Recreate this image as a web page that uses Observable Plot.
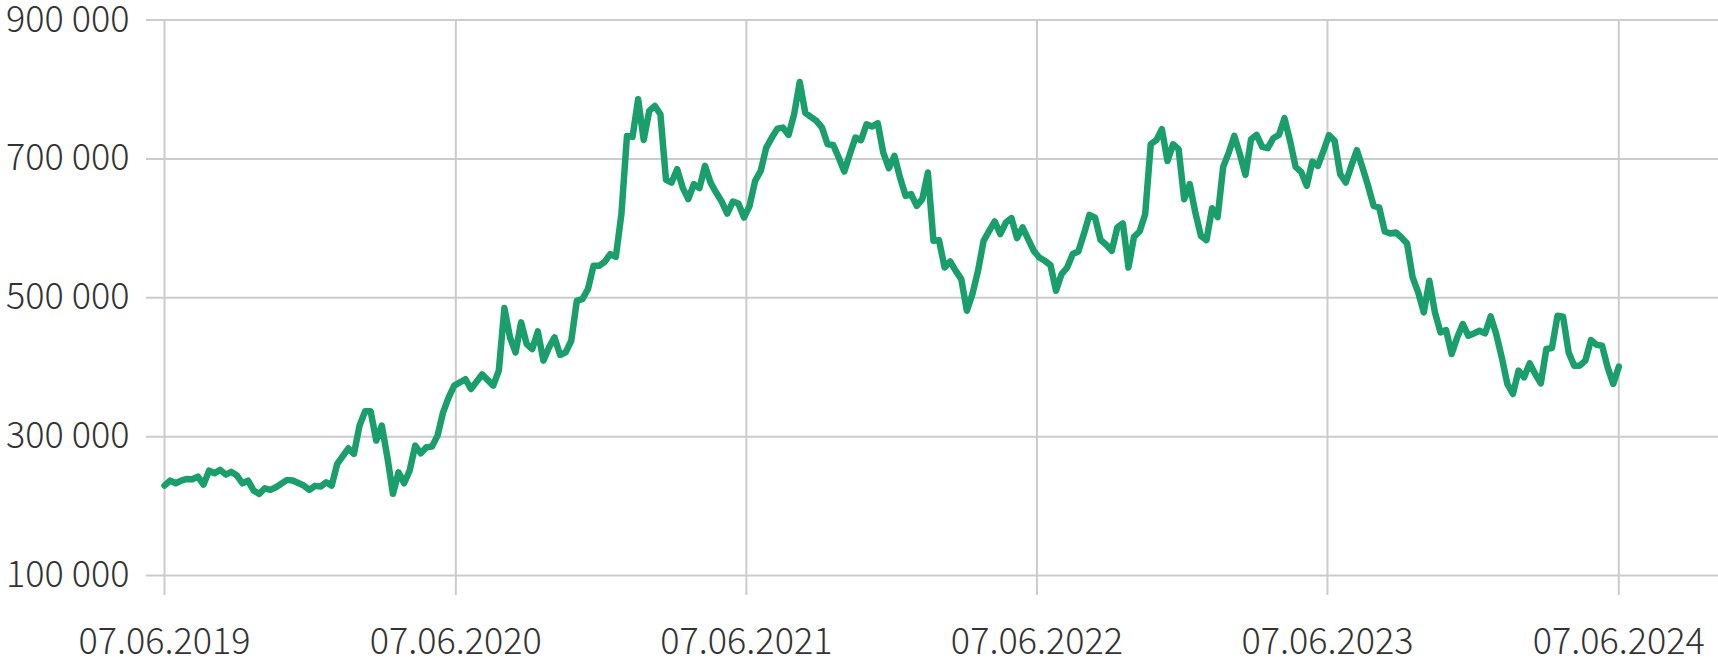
<!DOCTYPE html>
<html>
<head>
<meta charset="utf-8">
<script src="https://cdn.jsdelivr.net/npm/d3@7"></script>
<script src="https://cdn.jsdelivr.net/npm/@observablehq/plot@0.6"></script>
<style>
  html, body { margin: 0; padding: 0; background: #fff; }
  #chart svg { display: block; }
</style>
</head>
<body>
<div id="chart"></div>
<script>
// Week offsets from 07.06.2019 for each observed point
const weeks = [
  0,1,2,3,4,5,6,7,8,9,10,11,12,13,14,15,16,17,18,19,20,
  22,23,25,26,27,28,29,30,31,
  33,34,35,36,37,38,39,40,41,42,43,44,45,46,47,48,49,50,51,52,
  54,55,57,59,60,
  61,62,63,64,65,66,67,68,69,70,
  71,72,73,74,75,76,77,78,79,80,
  81,82,83,84,85,86,87,88,89,90,
  91,92,93,94,95,96,97,98,99,100,
  101,102,103,104,105,106,107,108,109,110,
  111,112,113,114,115,116,117,118,119,120,
  121,122,123,124,125,126,127,128,129,130,
  131,132,133,134,135,136,137,138,139,140,
  141,142,143,144,145,146,147,148,149,150,
  151,152,153,154,155,156,157,158,159,160,
  161,162,163,164,165,166,167,168,169,170,
  171,172,173,174,175,176,177,178,179,180,
  181,182,183,184,185,186,187,188,189,190,
  191,192,193,194,195,196,197,198,199,200,
  201,202,203,204,205,206,207,208,209,210,
  211,212,213,214,215,216,217,218,219,220,
  221,222,223,224,225,226,227,228,229,230,
  231,232,233,234,235,236,237,238,239,240,
  241,242,243,244,245,246,247,248,249,250,
  251,252,253,254,255,256,257,258,259,260,
  261
];

const values = [
  229500,236700,232800,236700,239100,238600,242400,230900,251100,247200,
  252100,245300,249200,243900,232800,236700,222300,217600,225600,223300,
  227100,237700,236700,229500,223300,229100,228100,234200,229500,260700,
  283200,275100,315800,336400,336400,294200,315800,270200,217600,248600,
  232800,251100,287100,276000,284600,285600,301400,335000,356500,373400,
  382700,368600,389600,373400,395000,485200,442900,421300,464500,433400,
  426200,451500,409400,428500,442900,417600,421300,438100,495700,498100,
  512500,546000,546000,551800,562900,559000,620400,733100,731700,785900,
  727300,769100,776300,764300,669800,665900,685200,658700,642000,663600,
  657800,689900,665900,651500,638600,621300,638600,635700,615500,632400,
  668300,682700,716300,730700,743600,745000,734500,764300,810800,766200,
  760400,754700,745000,721100,720100,701900,681700,706800,730700,726900,
  749900,746500,751400,709100,686600,704300,673100,646800,649200,632400,
  642000,680300,582000,583000,543600,552200,538800,526900,481300,505300,
  538800,582000,596400,609800,591700,608400,614700,585900,601200,584500,
  567600,558000,553200,547100,510100,534100,543600,562900,566600,591700,
  619400,615500,583000,576300,567600,601200,606900,543600,587800,595400,
  620400,721100,726900,742700,697100,721100,714000,642000,663600,622700,
  589200,583000,628800,616100,688500,709100,733100,706800,677000,728300,
  734500,717300,715400,729800,734500,758600,725900,688500,681300,661200,
  696100,689900,711500,734100,725900,678000,665900,689900,712500,687500,
  661200,632400,629900,595400,592500,594000,586800,578100,529200,507600,
  478800,524500,478800,450100,453500,419000,442900,462200,445300,448600,
  452500,448600,473100,447800,414100,375800,361400,395000,385300,405500,
  390200,376700,426200,427600,474100,472700,421300,402200,402200,409400,
  439100,432400,430900,399700,375800,400700
];

const startDate = "2019-06-07";
const xTickDates = ["2019-06-07","2020-06-07","2021-06-07","2022-06-07","2023-06-07","2024-06-07"];
const xTickLabels = ["07.06.2019","07.06.2020","07.06.2021","07.06.2022","07.06.2023","07.06.2024"];
const yTicks = [100000, 300000, 500000, 700000, 900000];

// ---- build ----
const DAY = 86400000;
const t0 = new Date(startDate).getTime();
const data = weeks.map((w, i) => ({date: new Date(t0 + w * 7 * DAY), value: values[i]}));
const tickDates = xTickDates.map(s => new Date(s));

const W = 1718, H = 658;
const mLeft = 146, mRight = 0, mTop = 19.5, mBottom = 63;
// layout: first tick at px 164, last at px 1618.3
const px0 = 164, px1 = 1618.3;
const ta = tickDates[0].getTime(), tb = tickDates[tickDates.length - 1].getTime();
const k = (px1 - px0) / (tb - ta);
const xDomain = [new Date(ta - (px0 - mLeft) / k), new Date(tb + (W - mRight - px1) / k)];
// y: 100000 at px 575, 900000 at px 19.5; frame bottom at 595
const perPx = (900000 - 100000) / (575 - 19.5);
const yDomain = [100000 - (595 - 575) * perPx, 900000];

const fmtY = d => d3.format(",")(d).replace(/,/g, " ");
const fmtX = d => xTickLabels[tickDates.findIndex(t => +t === +d)];

const font = "'Noto Sans CJK SC', 'Noto Sans', sans-serif";

const chart = Plot.plot({
  width: W,
  height: H,
  marginLeft: mLeft,
  marginRight: mRight,
  marginTop: mTop,
  marginBottom: mBottom,
  style: {fontFamily: font, fontSize: "36px", background: "#fff", overflow: "visible"},
  x: {type: "utc", domain: xDomain},
  y: {domain: yDomain},
  marks: [
    Plot.ruleY(yTicks, {stroke: "#cccccc", strokeWidth: 2, strokeOpacity: 1}),
    Plot.ruleX(tickDates, {stroke: "#cccccc", strokeWidth: 2, strokeOpacity: 1}),
    Plot.line(data, {x: "date", y: "value", stroke: "#1a9e6b", strokeWidth: 6.5,
      strokeLinejoin: "round", strokeLinecap: "round"}),
    Plot.axisY(yTicks, {tickSize: 0, tickPadding: 17, tickFormat: fmtY, label: null,
      fontSize: 36, fill: "#333", fontWeight: 300}),
    Plot.axisX(tickDates, {tickSize: 0, tickPadding: 33, tickFormat: fmtX, label: null,
      fontSize: 36, fill: "#333", fontWeight: 300})
  ]
});
document.getElementById("chart").appendChild(chart);
</script>
</body>
</html>
